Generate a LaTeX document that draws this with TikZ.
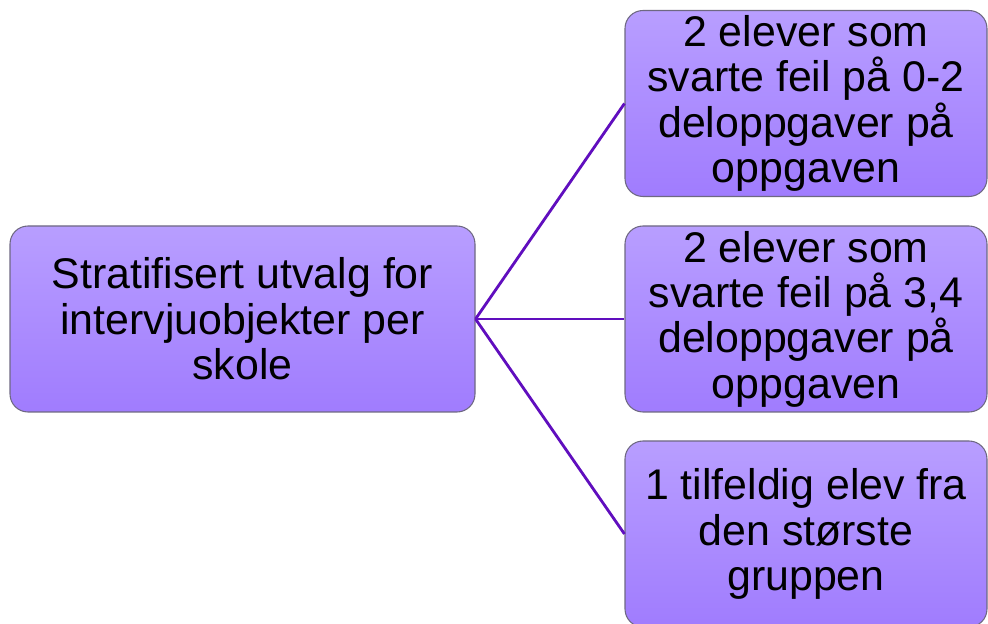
\documentclass[tikz,border=0pt]{standalone}
\usepackage{fontspec}
\setmainfont{Liberation Sans}
\usetikzlibrary{positioning}
\definecolor{boxtop}{RGB}{184, 158, 255}
\definecolor{boxbottom}{RGB}{160, 124, 254}
\definecolor{boxline}{RGB}{110, 104, 130}
\definecolor{branch}{RGB}{96, 14, 190}

\begin{document}
\begin{tikzpicture}[every node/.style={font=\fontsize{24.4}{25.8}\selectfont},
  sortbox/.style={draw=boxline, line width=0.6pt, rounded corners=0.36cm, top color=boxtop, bottom color=boxbottom, minimum height=3.72cm, inner sep=0pt, align=center},
  branchline/.style={draw=branch, line width=1.6pt}]
  \useasboundingbox (0,0) rectangle (19.76,-12.48);
  \clip (0,0) rectangle (19.76,-12.48);

  \node[sortbox, minimum width=9.3cm] (utvalg) at (4.85,-6.38) {Stratifisert utvalg for\\intervjuobjekter per\\skole};

  \node[sortbox, minimum width=7.24cm] (gr1) at (16.12,-2.07) {2 elever som\\svarte feil på 0-2\\deloppgaver på\\oppgaven};
  \node[sortbox, minimum width=7.24cm] (gr2) at (16.12,-6.38) {2 elever som\\svarte feil på 3,4\\deloppgaver på\\oppgaven};
  \node[sortbox, minimum width=7.24cm] (gr3) at (16.12,-10.68) {1 tilfeldig elev fra\\den største\\gruppen};

  \draw[branchline] (utvalg.east) -- (gr1.west);
  \draw[branchline] (utvalg.east) -- (gr2.west);
  \draw[branchline] (utvalg.east) -- (gr3.west);
\end{tikzpicture}
\end{document}
